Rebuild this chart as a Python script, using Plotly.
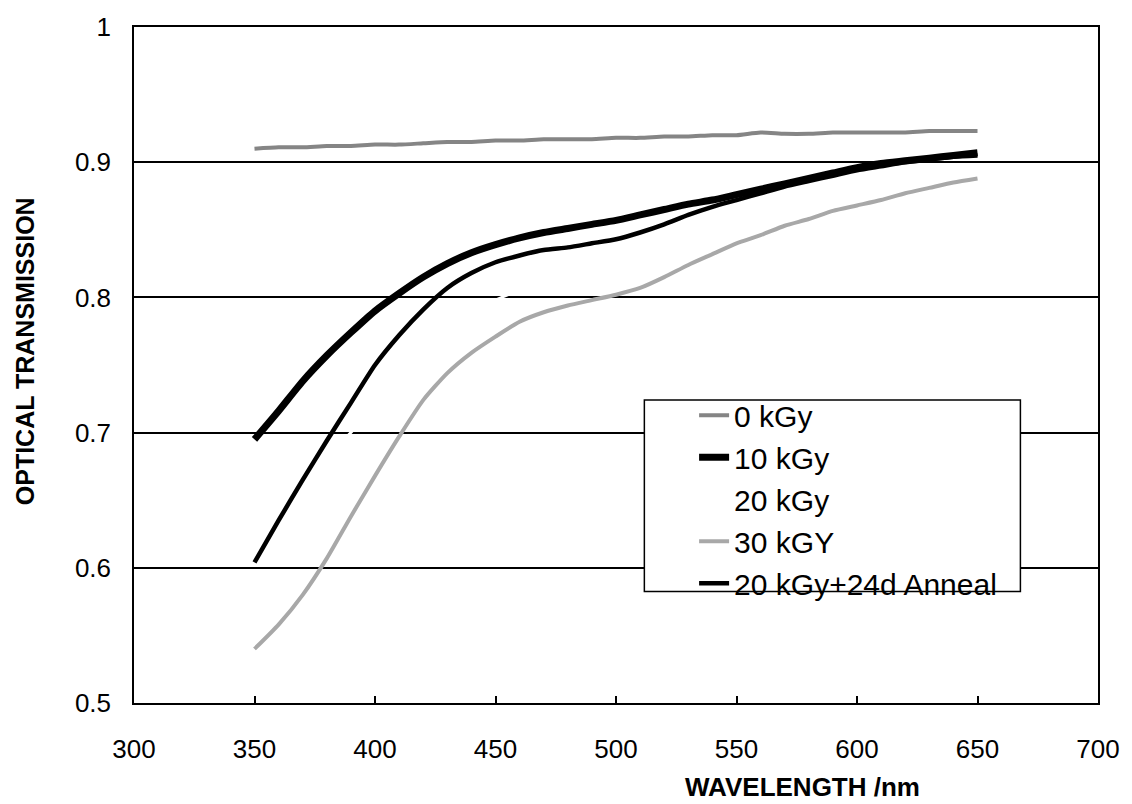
import plotly.graph_objects as go

wavelength = [350, 360, 370, 380, 390, 400, 410, 420, 430, 440, 450, 460, 470, 480, 490, 500,
              510, 520, 530, 540, 550, 560, 570, 580, 590, 600, 610, 620, 630, 640, 650]

t_0kgy = [0.910, 0.911, 0.911, 0.912, 0.912, 0.913, 0.913, 0.914, 0.915, 0.915, 0.916, 0.916,
          0.917, 0.917, 0.917, 0.918, 0.918, 0.919, 0.919, 0.920, 0.920, 0.922, 0.921, 0.921,
          0.922, 0.922, 0.922, 0.922, 0.923, 0.923, 0.923]

t_10kgy = [0.695, 0.716, 0.738, 0.757, 0.774, 0.790, 0.803, 0.815, 0.825, 0.833, 0.839, 0.844,
           0.848, 0.851, 0.854, 0.857, 0.861, 0.865, 0.869, 0.872, 0.876, 0.880, 0.884, 0.888,
           0.892, 0.896, 0.899, 0.901, 0.903, 0.905, 0.907]

t_20kgy = [0.615, 0.638, 0.660, 0.682, 0.700, 0.722, 0.742, 0.760, 0.776, 0.789, 0.798, 0.805,
           0.809, 0.813, 0.817, 0.822, 0.827, 0.832, 0.838, 0.845, 0.853, 0.858, 0.863, 0.868,
           0.873, 0.877, 0.881, 0.884, 0.887, 0.890, 0.894]

t_30kgy = [0.540, 0.558, 0.580, 0.607, 0.638, 0.668, 0.697, 0.724, 0.744, 0.759, 0.771, 0.782,
           0.789, 0.794, 0.798, 0.802, 0.807, 0.815, 0.824, 0.832, 0.840, 0.846, 0.853, 0.858,
           0.864, 0.868, 0.872, 0.877, 0.881, 0.885, 0.888]

t_anneal = [0.604, 0.635, 0.665, 0.694, 0.722, 0.750, 0.772, 0.791, 0.807, 0.818, 0.826, 0.831,
            0.835, 0.837, 0.840, 0.843, 0.848, 0.854, 0.861, 0.867, 0.872, 0.877, 0.882, 0.886,
            0.890, 0.894, 0.897, 0.900, 0.902, 0.904, 0.905]

series_names = ["0 kGy", "10 kGy", "20 kGy", "30 kGY", "20 kGy+24d Anneal"]

x_ticks = [300, 350, 400, 450, 500, 550, 600, 650, 700]
y_ticks = [0.5, 0.6, 0.7, 0.8, 0.9, 1.0]
y_tick_labels = ["0.5", "0.6", "0.7", "0.8", "0.9", "1"]

FONT = "Liberation Sans, Arial, sans-serif"

# plot area in pixels
L, R, T, B = 134, 1103, 18, 703
PW, PH = R - L, B - T


def px(xp):
    return (xp - L) / PW


def py(yp):
    return (B - yp) / PH


fig = go.Figure()
fig.add_trace(go.Scatter(x=wavelength, y=t_0kgy, name=series_names[0], mode="lines",
                         line=dict(color="#858585", width=4, shape="spline", smoothing=0.6)))
fig.add_trace(go.Scatter(x=wavelength, y=t_10kgy, name=series_names[1], mode="lines",
                         line=dict(color="#000000", width=7, shape="spline", smoothing=0.6)))
fig.add_trace(go.Scatter(x=wavelength, y=t_20kgy, name=series_names[2], mode="lines",
                         line=dict(color="#ffffff", width=3, shape="spline", smoothing=0.6)))
fig.add_trace(go.Scatter(x=wavelength, y=t_30kgy, name=series_names[3], mode="lines",
                         line=dict(color="#a8a8a8", width=4, shape="spline", smoothing=0.6)))
fig.add_trace(go.Scatter(x=wavelength, y=t_anneal, name=series_names[4], mode="lines",
                         line=dict(color="#000000", width=4.5, shape="spline", smoothing=0.6)))

fig.update_layout(
    width=1132, height=804,
    margin=dict(l=L, r=1132 - R, t=T, b=804 - B),
    paper_bgcolor="white", plot_bgcolor="white",
    font=dict(family=FONT, size=26, color="black"),
    showlegend=True,
    legend=dict(x=px(697), y=py(385), xanchor="left", yanchor="top",
                bgcolor="rgba(0,0,0,0)", borderwidth=0,
                font=dict(family=FONT, size=30, color="black"),
                tracegroupgap=0),
    shapes=[
        dict(type="rect", xref="paper", yref="paper",
             x0=px(647), x1=px(1025), y0=py(590), y1=py(396),
             fillcolor="white", line=dict(color="black", width=1.5), layer="above"),
    ],
    annotations=[
        dict(text="<b>WAVELENGTH /nm</b>", xref="paper", yref="paper",
             x=px(806), y=py(788), xanchor="center", yanchor="middle",
             showarrow=False, font=dict(family=FONT, size=26, color="black")),
        dict(text="<b>OPTICAL TRANSMISSION</b>", xref="paper", yref="paper",
             x=px(24), y=py(347), xanchor="center", yanchor="middle",
             textangle=-90, showarrow=False, font=dict(family=FONT, size=25, color="black")),
    ],
)

fig.update_xaxes(range=[300, 700], tickvals=x_ticks, ticks="inside", ticklen=7,
                 tickcolor="black", tickwidth=1.5, showgrid=False, zeroline=False,
                 showline=True, linecolor="black", linewidth=1.5, mirror=True,
                 ticklabelstandoff=22, tickfont=dict(family=FONT, size=26, color="black"))
fig.update_yaxes(range=[0.5, 1.0], tickvals=y_ticks, ticktext=y_tick_labels, ticks="inside",
                 ticklen=7, tickcolor="black", tickwidth=1.5, showgrid=True,
                 gridcolor="black", gridwidth=1.5, zeroline=False,
                 showline=True, linecolor="black", linewidth=1.5, mirror=True,
                 ticklabelstandoff=16, tickfont=dict(family=FONT, size=26, color="black"))

fig.write_html("out.html")
